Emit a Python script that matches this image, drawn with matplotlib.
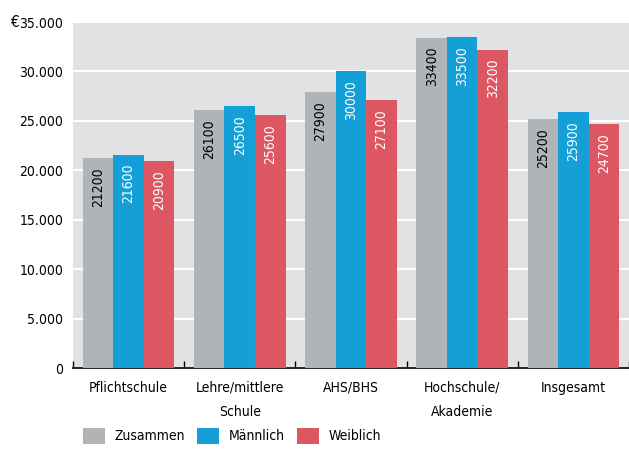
import numpy as np
import matplotlib.pyplot as plt
from matplotlib.ticker import FuncFormatter

plt.rcParams['font.family'] = ['DejaVu Sans']
plt.rcParams['font.stretch'] = 'condensed'

categories = ['Pflichtschule', 'Lehre/mittlere\nSchule', 'AHS/BHS', 'Hochschule/\nAkademie', 'Insgesamt']
zusammen = [21200, 26100, 27900, 33400, 25200]
maennlich = [21600, 26500, 30000, 33500, 25900]
weiblich = [20900, 25600, 27100, 32200, 24700]

series = [('Zusammen', zusammen, '#b1b4b6', 'black'),
          ('Männlich', maennlich, '#149fd6', 'white'),
          ('Weiblich', weiblich, '#dc5762', 'white')]

fig = plt.figure(figsize=(6.29, 4.5), dpi=100)
ax = fig.add_axes([0.116, 0.182, 0.884, 0.769])
ax.set_facecolor('#e1e2e4')

x = np.arange(len(categories))
w = 0.275
for i, (name, vals, col, tcol) in enumerate(series):
    pos = x + (i - 1) * w
    ax.bar(pos, vals, width=w, color=col, label=name, zorder=3)
    for p, v in zip(pos, vals):
        ax.text(p, v - 900, str(v), rotation=90, ha='center', va='top',
                color=tcol, fontsize=10, zorder=4)

ax.set_xlim(-0.5, 4.5)
ax.set_ylim(0, 35000)
ax.set_yticks(range(0, 35001, 5000))
ax.yaxis.set_major_formatter(FuncFormatter(lambda v, p: '{:,.0f}'.format(v).replace(',', '.')))
ax.grid(axis='y', color='white', linewidth=1.5, zorder=1)
ax.tick_params(axis='y', length=0, labelsize=10, pad=7)

# group labels centred, small ticks on the group boundaries
ax.set_xticks(x)
ax.set_xticklabels(categories, fontsize=10, linespacing=1.9)
ax.tick_params(axis='x', length=0, pad=9)
ax.set_xticks(np.arange(-0.5, 4.6, 1), minor=True)
ax.tick_params(axis='x', which='minor', direction='in', length=5, width=1, color='black')

for s in ['top', 'right', 'left']:
    ax.spines[s].set_visible(False)
ax.spines['bottom'].set_color('black')
ax.spines['bottom'].set_linewidth(1.2)

fig.text(0.016, 0.951, '€', fontsize=11, va='center', ha='left')

fig.legend(loc='lower left', bbox_to_anchor=(0.112, -0.014), ncol=3, frameon=False,
           fontsize=10, handlelength=1.6, handleheight=1.4, columnspacing=0.9,
           handletextpad=0.65)

fig.savefig('out.png', dpi=100)
